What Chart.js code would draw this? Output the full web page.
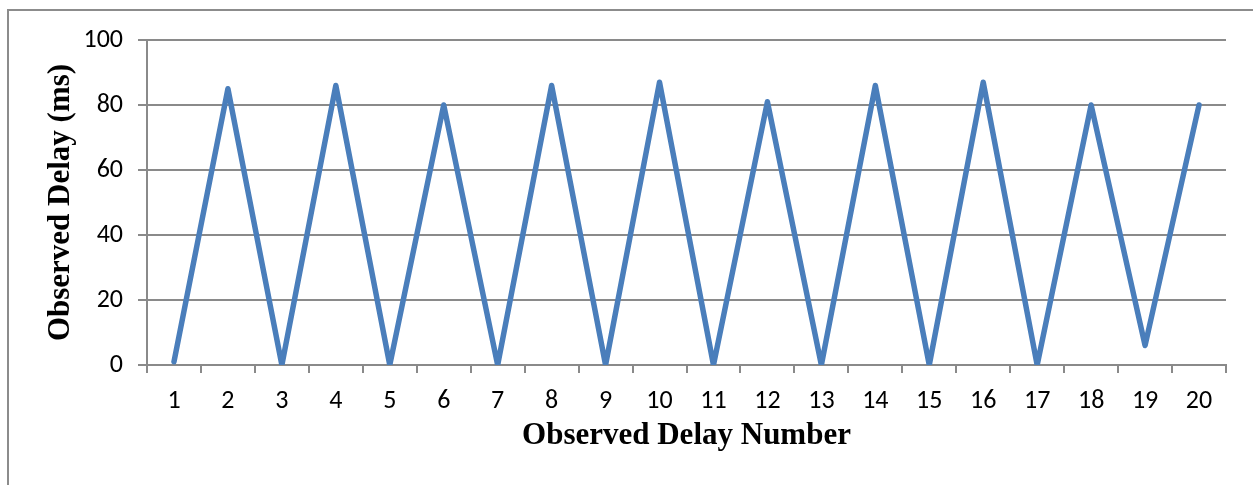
<!DOCTYPE html>
<html>
<head>
<meta charset="utf-8">
<script src="https://cdn.jsdelivr.net/npm/chart.js@4"></script>
<style>
  html, body { margin: 0; padding: 0; background: #fff; overflow: hidden; }
  #frame { position: absolute; left: 7px; top: 9px; width: 1260px; height: 490px;
           border: 2px solid #8c8c8c; box-sizing: border-box; }
  #wrap { position: absolute; left: 0; top: 0; width: 1253px; height: 485px; }
</style>
</head>
<body>
<div id="frame"></div>
<div id="wrap"><canvas id="delayChart"></canvas></div>
<script>
// ── Observed delay chart ──
const delayNumbers = ['1','2','3','4','5','6','7','8','9','10','11','12','13','14','15','16','17','18','19','20'];
const delayValues = [1, 85, 0, 86, 0, 80, 0, 86, 0, 87, 0, 81, 0, 86, 0, 87, 0, 80, 6, 80];
const yTicks = [0, 20, 40, 60, 80, 100];

const gray = '#8a8a8a';
const tickFont = { family: 'Carlito, Lato, "Open Sans", sans-serif', size: 26 };
const titleFont = { family: '"Liberation Serif", "Times New Roman", serif', size: 31, weight: 'bold' };

new Chart(document.getElementById('delayChart').getContext('2d'), {
  type: 'line',
  data: {
    labels: delayNumbers,
    datasets: [{
      data: delayValues,
      borderColor: '#4a7ebb', borderWidth: 5.5,
      tension: 0, fill: false,
      pointRadius: 0, pointHoverRadius: 0,
      borderJoinStyle: 'round', borderCapStyle: 'round'
    }]
  },
  options: {
    responsive: true, maintainAspectRatio: false, animation: false,
    layout: { padding: { left: 42, top: 40, right: 27, bottom: 30 } },
    plugins: { legend: { display: false }, tooltip: { enabled: false } },
    scales: {
      x: {
        offset: true,
        grid: { offset: true, drawOnChartArea: false, drawTicks: true, tickLength: 8, color: gray, lineWidth: 2 },
        border: { color: gray, width: 2 },
        ticks: { font: tickFont, color: '#000', padding: 13, maxRotation: 0, autoSkip: false },
        title: { display: true, text: 'Observed Delay Number', font: titleFont, color: '#000', padding: { top: 0, bottom: 0 } },
        afterFit: (s) => { s.height = 90; }
      },
      y: {
        min: 0, max: 100,
        afterBuildTicks: (s) => { s.ticks = yTicks.map(v => ({ value: v })); },
        grid: { color: gray, lineWidth: 2, tickLength: 9 },
        border: { color: gray, width: 2 },
        ticks: { font: tickFont, color: '#000', padding: 15 },
        title: { display: true, text: 'Observed Delay (ms)', font: titleFont, color: '#000', padding: { top: 0, bottom: 0 } },
        afterFit: (s) => { s.width = 105; }
      }
    }
  }
});
</script>
</body>
</html>
